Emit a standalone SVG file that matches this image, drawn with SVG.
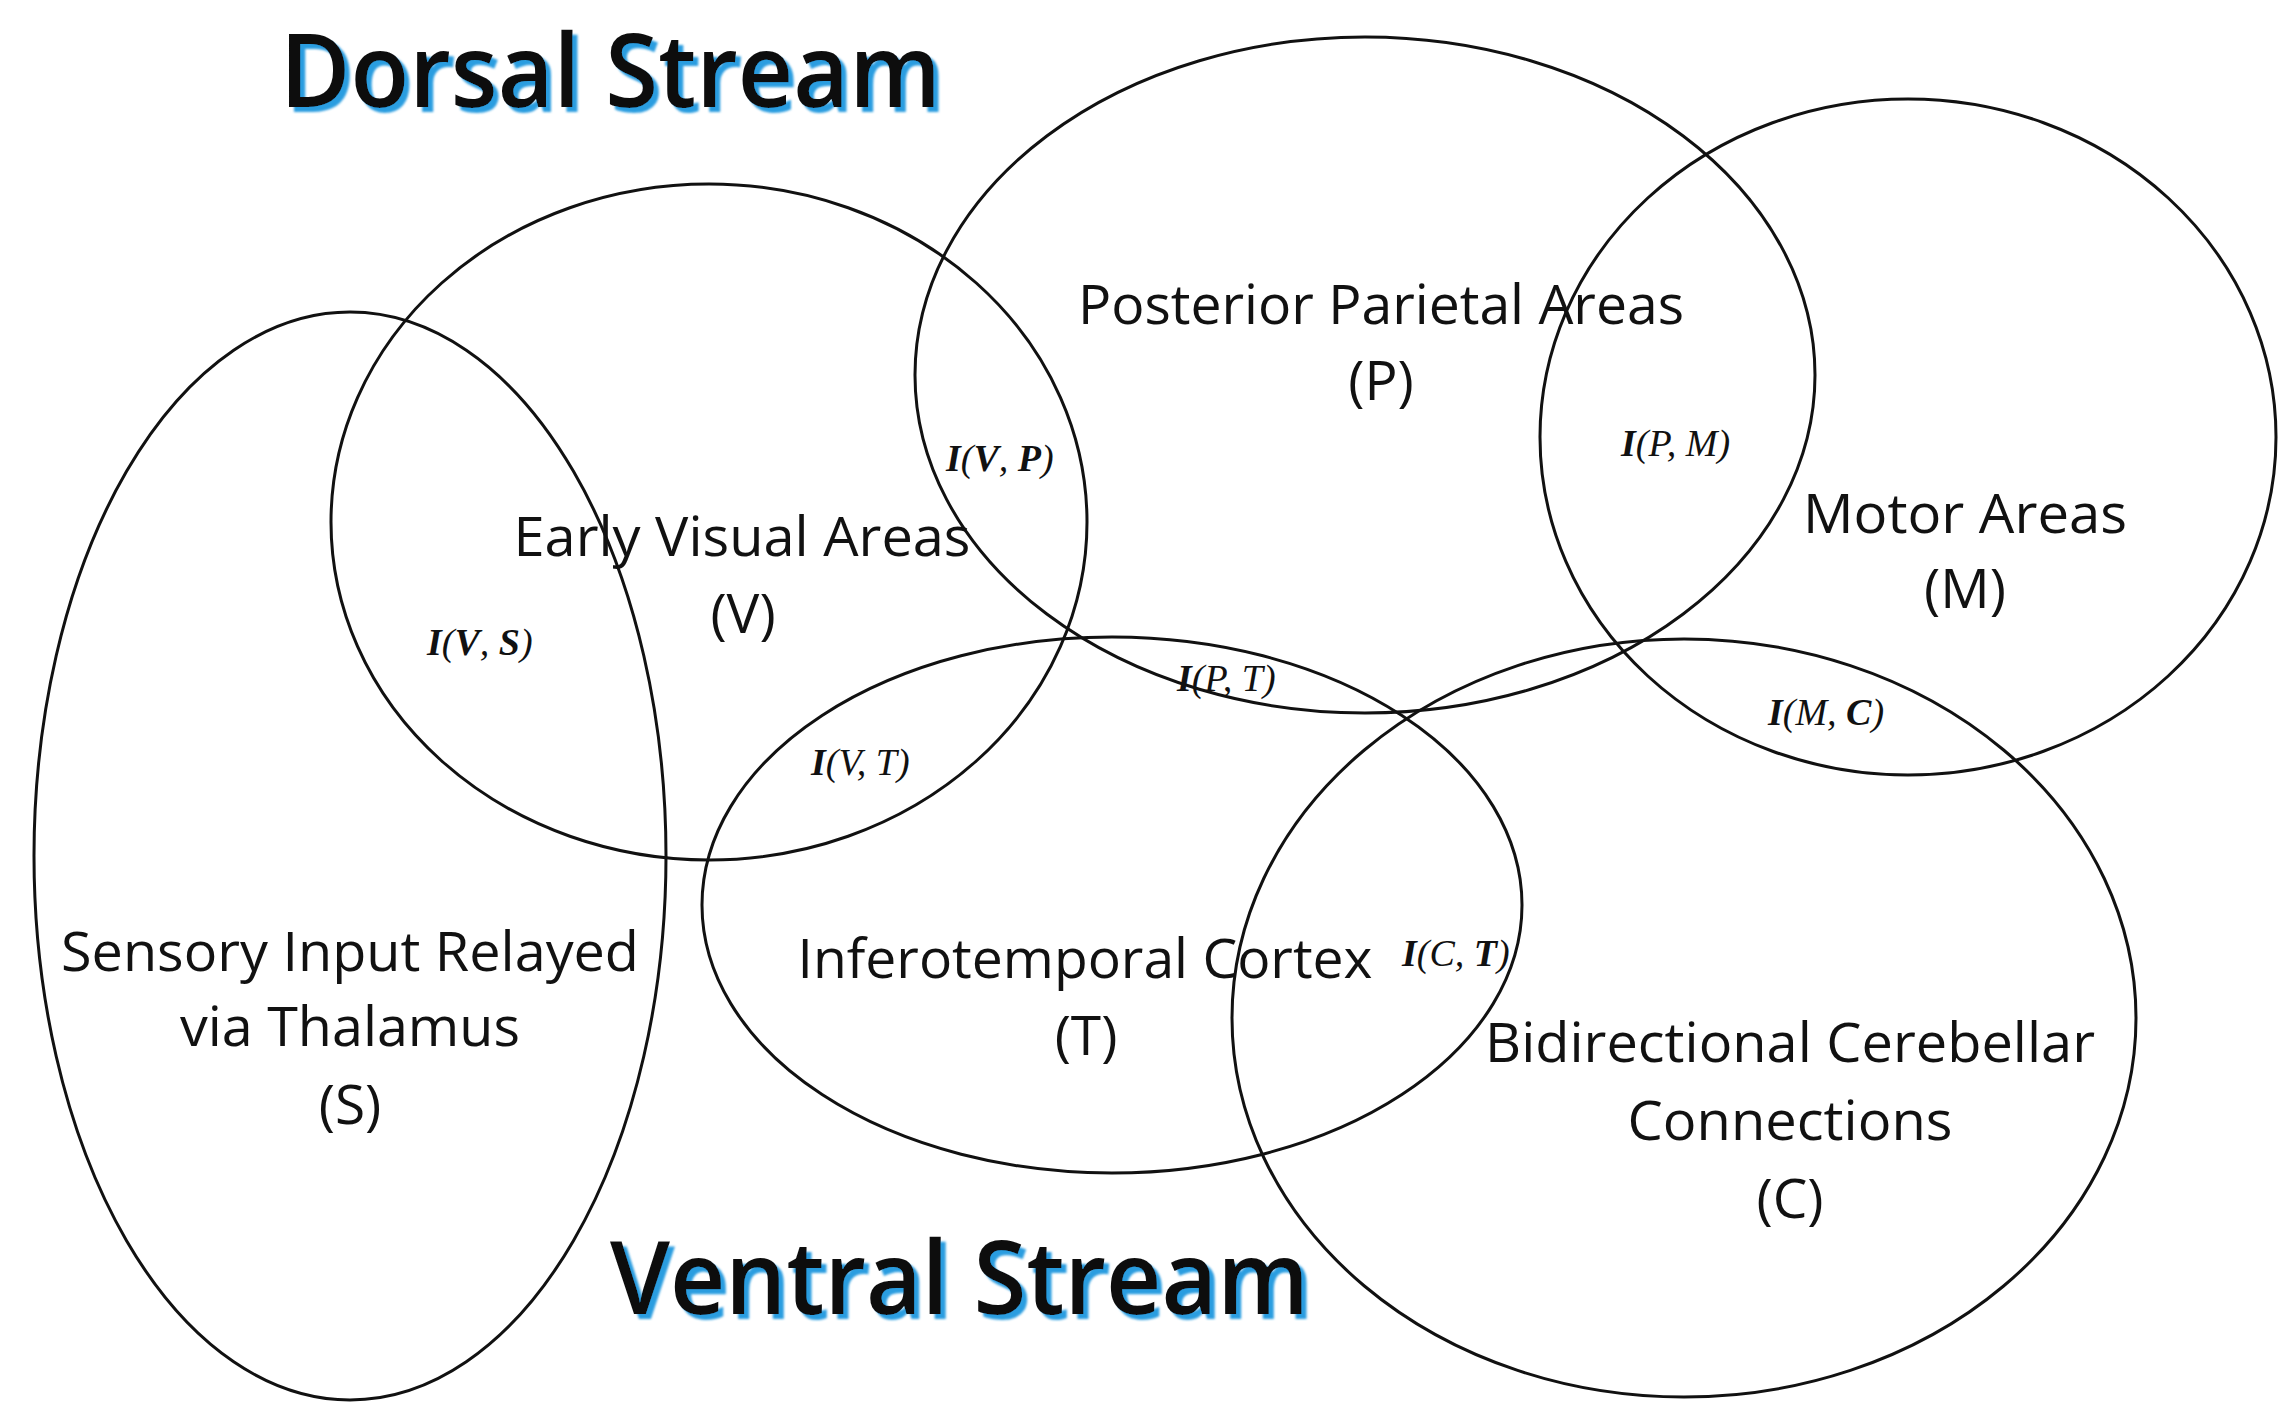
<svg xmlns="http://www.w3.org/2000/svg" width="2292" height="1420" viewBox="0 0 2292 1420">
<defs>
<filter id="sh" x="-5%" y="-20%" width="115%" height="150%"><feDropShadow dx="5" dy="5" stdDeviation="1" flood-color="#2a9de0" flood-opacity="1"/></filter>
</defs>
<style>
.e{fill:none;stroke:#111;stroke-width:3}
.l{font-family:"Open Sans","Noto Sans",sans-serif;font-size:55px;fill:#111;text-anchor:middle}
.m{font-family:"Liberation Serif",serif;font-size:38px;font-style:italic;fill:#111}
.b{font-weight:bold}
.h{font-family:"Open Sans","Noto Sans",sans-serif;font-size:102px;font-weight:600;fill:#111;filter:url(#sh)}
</style>
<rect width="2292" height="1420" fill="#fff"/>
<g id="S"><ellipse class="e" cx="350" cy="856" rx="316" ry="544"/>
<text class="l" x="350" y="971" textLength="578" lengthAdjust="spacingAndGlyphs">Sensory Input Relayed</text>
<text class="l" x="350" y="1046" textLength="340" lengthAdjust="spacingAndGlyphs">via Thalamus</text>
<text class="l" x="350" y="1124">(S)</text></g>
<g id="V"><ellipse class="e" cx="709" cy="522" rx="378" ry="338"/>
<text class="l" x="742" y="556" textLength="457" lengthAdjust="spacingAndGlyphs">Early Visual Areas</text>
<text class="l" x="743" y="633">(V)</text></g>
<g id="P"><ellipse class="e" cx="1365" cy="375" rx="450" ry="338"/>
<text class="l" x="1381" y="324" textLength="606" lengthAdjust="spacingAndGlyphs">Posterior Parietal Areas</text>
<text class="l" x="1381" y="400">(P)</text></g>
<g id="M"><ellipse class="e" cx="1908" cy="437" rx="368" ry="338"/>
<text class="l" x="1965" y="533" textLength="324" lengthAdjust="spacingAndGlyphs">Motor Areas</text>
<text class="l" x="1965" y="608">(M)</text></g>
<g id="T"><ellipse class="e" cx="1112" cy="905" rx="410" ry="268"/>
<text class="l" x="1085" y="978" textLength="575" lengthAdjust="spacingAndGlyphs">Inferotemporal Cortex</text>
<text class="l" x="1086" y="1055">(T)</text></g>
<g id="C"><ellipse class="e" cx="1684" cy="1018" rx="452" ry="379"/>
<text class="l" x="1790" y="1062" textLength="610" lengthAdjust="spacingAndGlyphs">Bidirectional Cerebellar</text>
<text class="l" x="1790" y="1140" textLength="325" lengthAdjust="spacingAndGlyphs">Connections</text>
<text class="l" x="1790" y="1218">(C)</text></g>
<g id="labels">
<text class="m" x="427" y="655"><tspan class="b">I</tspan>(<tspan class="b">V</tspan>, <tspan class="b">S</tspan>)</text>
<text class="m" x="946" y="471"><tspan class="b">I</tspan>(<tspan class="b">V</tspan>, <tspan class="b">P</tspan>)</text>
<text class="m" x="1621" y="456"><tspan class="b">I</tspan>(P, M)</text>
<text class="m" x="1177" y="691"><tspan class="b">I</tspan>(P, T)</text>
<text class="m" x="811" y="775"><tspan class="b">I</tspan>(V, T)</text>
<text class="m" x="1768" y="725"><tspan class="b">I</tspan>(M, <tspan class="b">C</tspan>)</text>
<text class="m" x="1402" y="966"><tspan class="b">I</tspan>(C, <tspan class="b">T</tspan>)</text>
</g>
<g id="titles">
<text class="h" x="280" y="107" textLength="661" lengthAdjust="spacingAndGlyphs">Dorsal Stream</text>
<text class="h" x="610" y="1314" textLength="699" lengthAdjust="spacingAndGlyphs">Ventral Stream</text>
</g>
</svg>
